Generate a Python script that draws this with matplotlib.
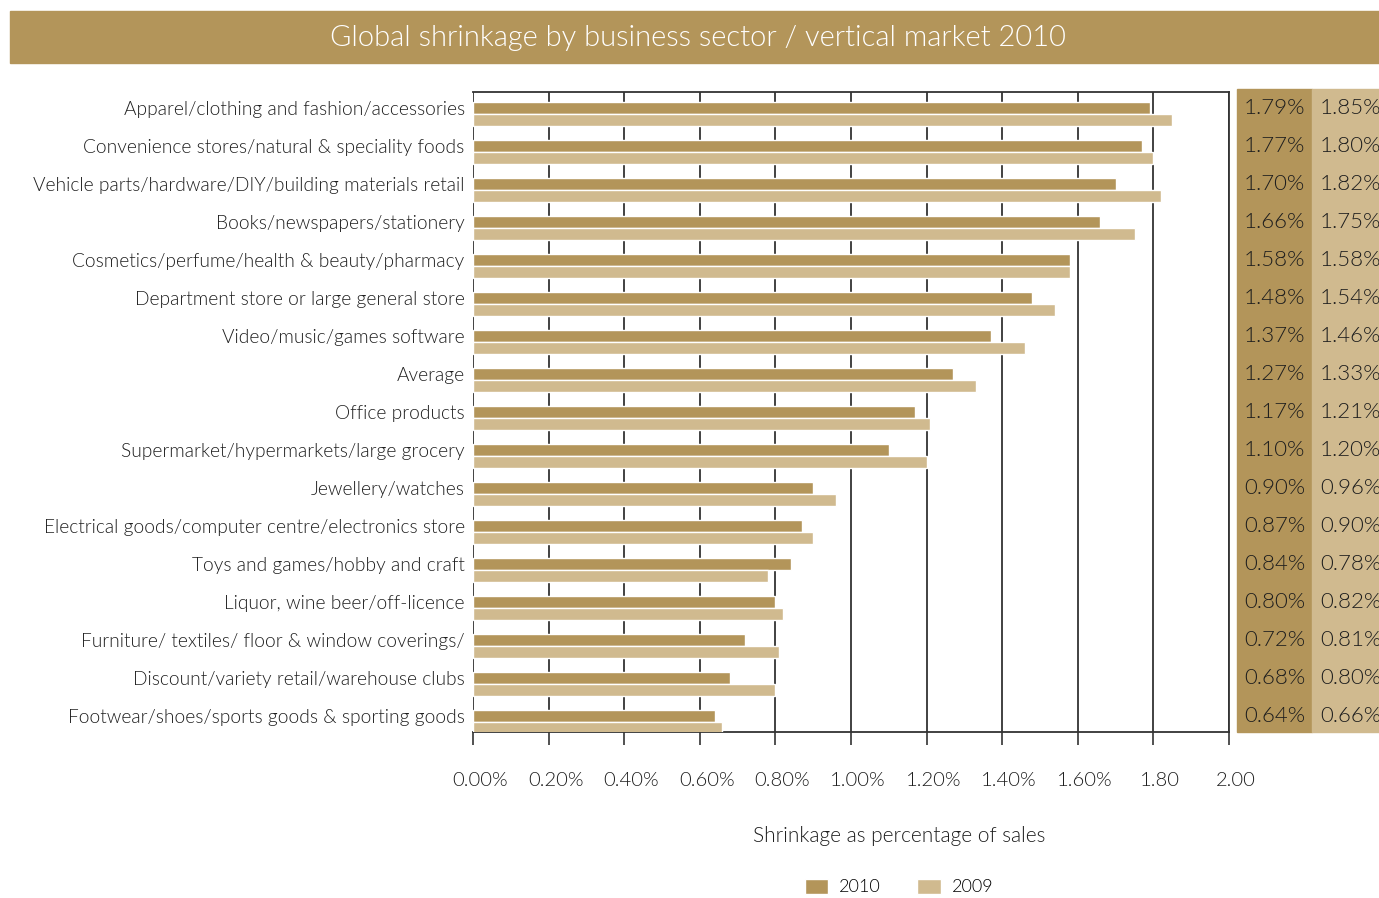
import matplotlib.pyplot as plt
import matplotlib.transforms as mtransforms
from matplotlib.patches import Rectangle
import numpy as np

plt.rcParams['font.family'] = ['Lato', 'DejaVu Sans']
plt.rcParams['font.weight'] = 300

categories = [
    'Apparel/clothing and fashion/accessories',
    'Convenience stores/natural & speciality foods',
    'Vehicle parts/hardware/DIY/building materials retail',
    'Books/newspapers/stationery',
    'Cosmetics/perfume/health & beauty/pharmacy',
    'Department store or large general store',
    'Video/music/games software',
    'Average',
    'Office products',
    'Supermarket/hypermarkets/large grocery',
    'Jewellery/watches',
    'Electrical goods/computer centre/electronics store',
    'Toys and games/hobby and craft',
    'Liquor, wine beer/off-licence',
    'Furniture/ textiles/ floor & window coverings/',
    'Discount/variety retail/warehouse clubs',
    'Footwear/shoes/sports goods & sporting goods',
]
shrink_2010 = [1.79, 1.77, 1.70, 1.66, 1.58, 1.48, 1.37, 1.27, 1.17, 1.10,
               0.90, 0.87, 0.84, 0.80, 0.72, 0.68, 0.64]
shrink_2009 = [1.85, 1.80, 1.82, 1.75, 1.58, 1.54, 1.46, 1.33, 1.21, 1.20,
               0.96, 0.90, 0.78, 0.82, 0.81, 0.80, 0.66]
xticks = [0.0, 0.2, 0.4, 0.6, 0.8, 1.0, 1.2, 1.4, 1.6, 1.8, 2.0]
xtick_labels = ['0.00%', '0.20%', '0.40%', '0.60%', '0.80%', '1.00%',
                '1.20%', '1.40%', '1.60%', '1.80', '2.00']

gold = '#B3955A'
sand = '#D0BA8F'
ink = '#1e1e1e'

W, H = 1379, 898
fig = plt.figure(figsize=(W / 100, H / 100), dpi=100)
ax = fig.add_axes([473 / W, 1 - 732 / H, (1229 - 473) / W, (732 - 91.7) / H])

y = np.arange(len(categories))
off, h = 0.158, 0.31
ax.barh(y - off, shrink_2010, height=h, color=gold, edgecolor='white',
        linewidth=1.0, zorder=3, label='2010')
ax.barh(y + off, shrink_2009, height=h, color=sand, edgecolor='white',
        linewidth=1.0, zorder=3, label='2009')

ax.set_xlim(0, 2.0)
ax.set_ylim(16.26, -0.58)
ax.set_xticks(xticks)
ax.set_xticklabels(xtick_labels, fontsize=14.5, color=ink)
ax.set_yticks(y - 0.15)
ax.set_yticklabels(categories, fontsize=13.8, color=ink)
ax.tick_params(axis='y', length=0, pad=6)
ax.tick_params(axis='x', length=9, width=1.2, color='#333333', pad=20)
ax.xaxis.grid(True, color='#333333', linewidth=1.3, zorder=1)
ax.set_axisbelow(True)
for side in ['top', 'right', 'bottom']:
    ax.spines[side].set_color('#333333')
    ax.spines[side].set_linewidth(1.3)
    ax.spines[side].set_zorder(1)
ax.spines['left'].set_visible(False)

# nudge the x tick labels a little to the right
shift = mtransforms.ScaledTranslation(7 / 100, 0, fig.dpi_scale_trans)
for lbl in ax.get_xticklabels():
    lbl.set_transform(lbl.get_transform() + shift)

# title banner
fig.patches.append(Rectangle((10 / W, 1 - 63 / H), 1 - 10 / W, 52 / H,
                             transform=fig.transFigure, color=gold, zorder=0))
fig.text(698 / W, 1 - 38 / H, 'Global shrinkage by business sector / vertical market 2010',
         ha='center', va='center', color='white', fontsize=21)

# value columns on the right
top, bot = 1 - 89 / H, 1 - 732 / H
fig.patches.append(Rectangle((1237 / W, bot), 75 / W, top - bot,
                             transform=fig.transFigure, color=gold, zorder=0))
fig.patches.append(Rectangle((1312 / W, bot), 1 - 1312 / W, top - bot,
                             transform=fig.transFigure, color=sand, zorder=0))
trans = mtransforms.blended_transform_factory(fig.transFigure, ax.transData)
for i in range(len(categories)):
    fig.text(1244 / W, i - 0.15, f'{shrink_2010[i]:.2f}%', transform=trans,
             ha='left', va='center', fontsize=16, color=ink)
    fig.text(1320 / W, i - 0.15, f'{shrink_2009[i]:.2f}%', transform=trans,
             ha='left', va='center', fontsize=16, color=ink)

fig.text(899 / W, 1 - 836 / H, 'Shrinkage as percentage of sales',
         ha='center', va='center', fontsize=15, color=ink)

fig.legend(loc='center', bbox_to_anchor=(899 / W, 1 - 887 / H), ncol=2,
           frameon=False, fontsize=13, handlelength=1.3, handleheight=0.9,
           columnspacing=2.0, handletextpad=0.6)

fig.savefig('out.png', dpi=100)
